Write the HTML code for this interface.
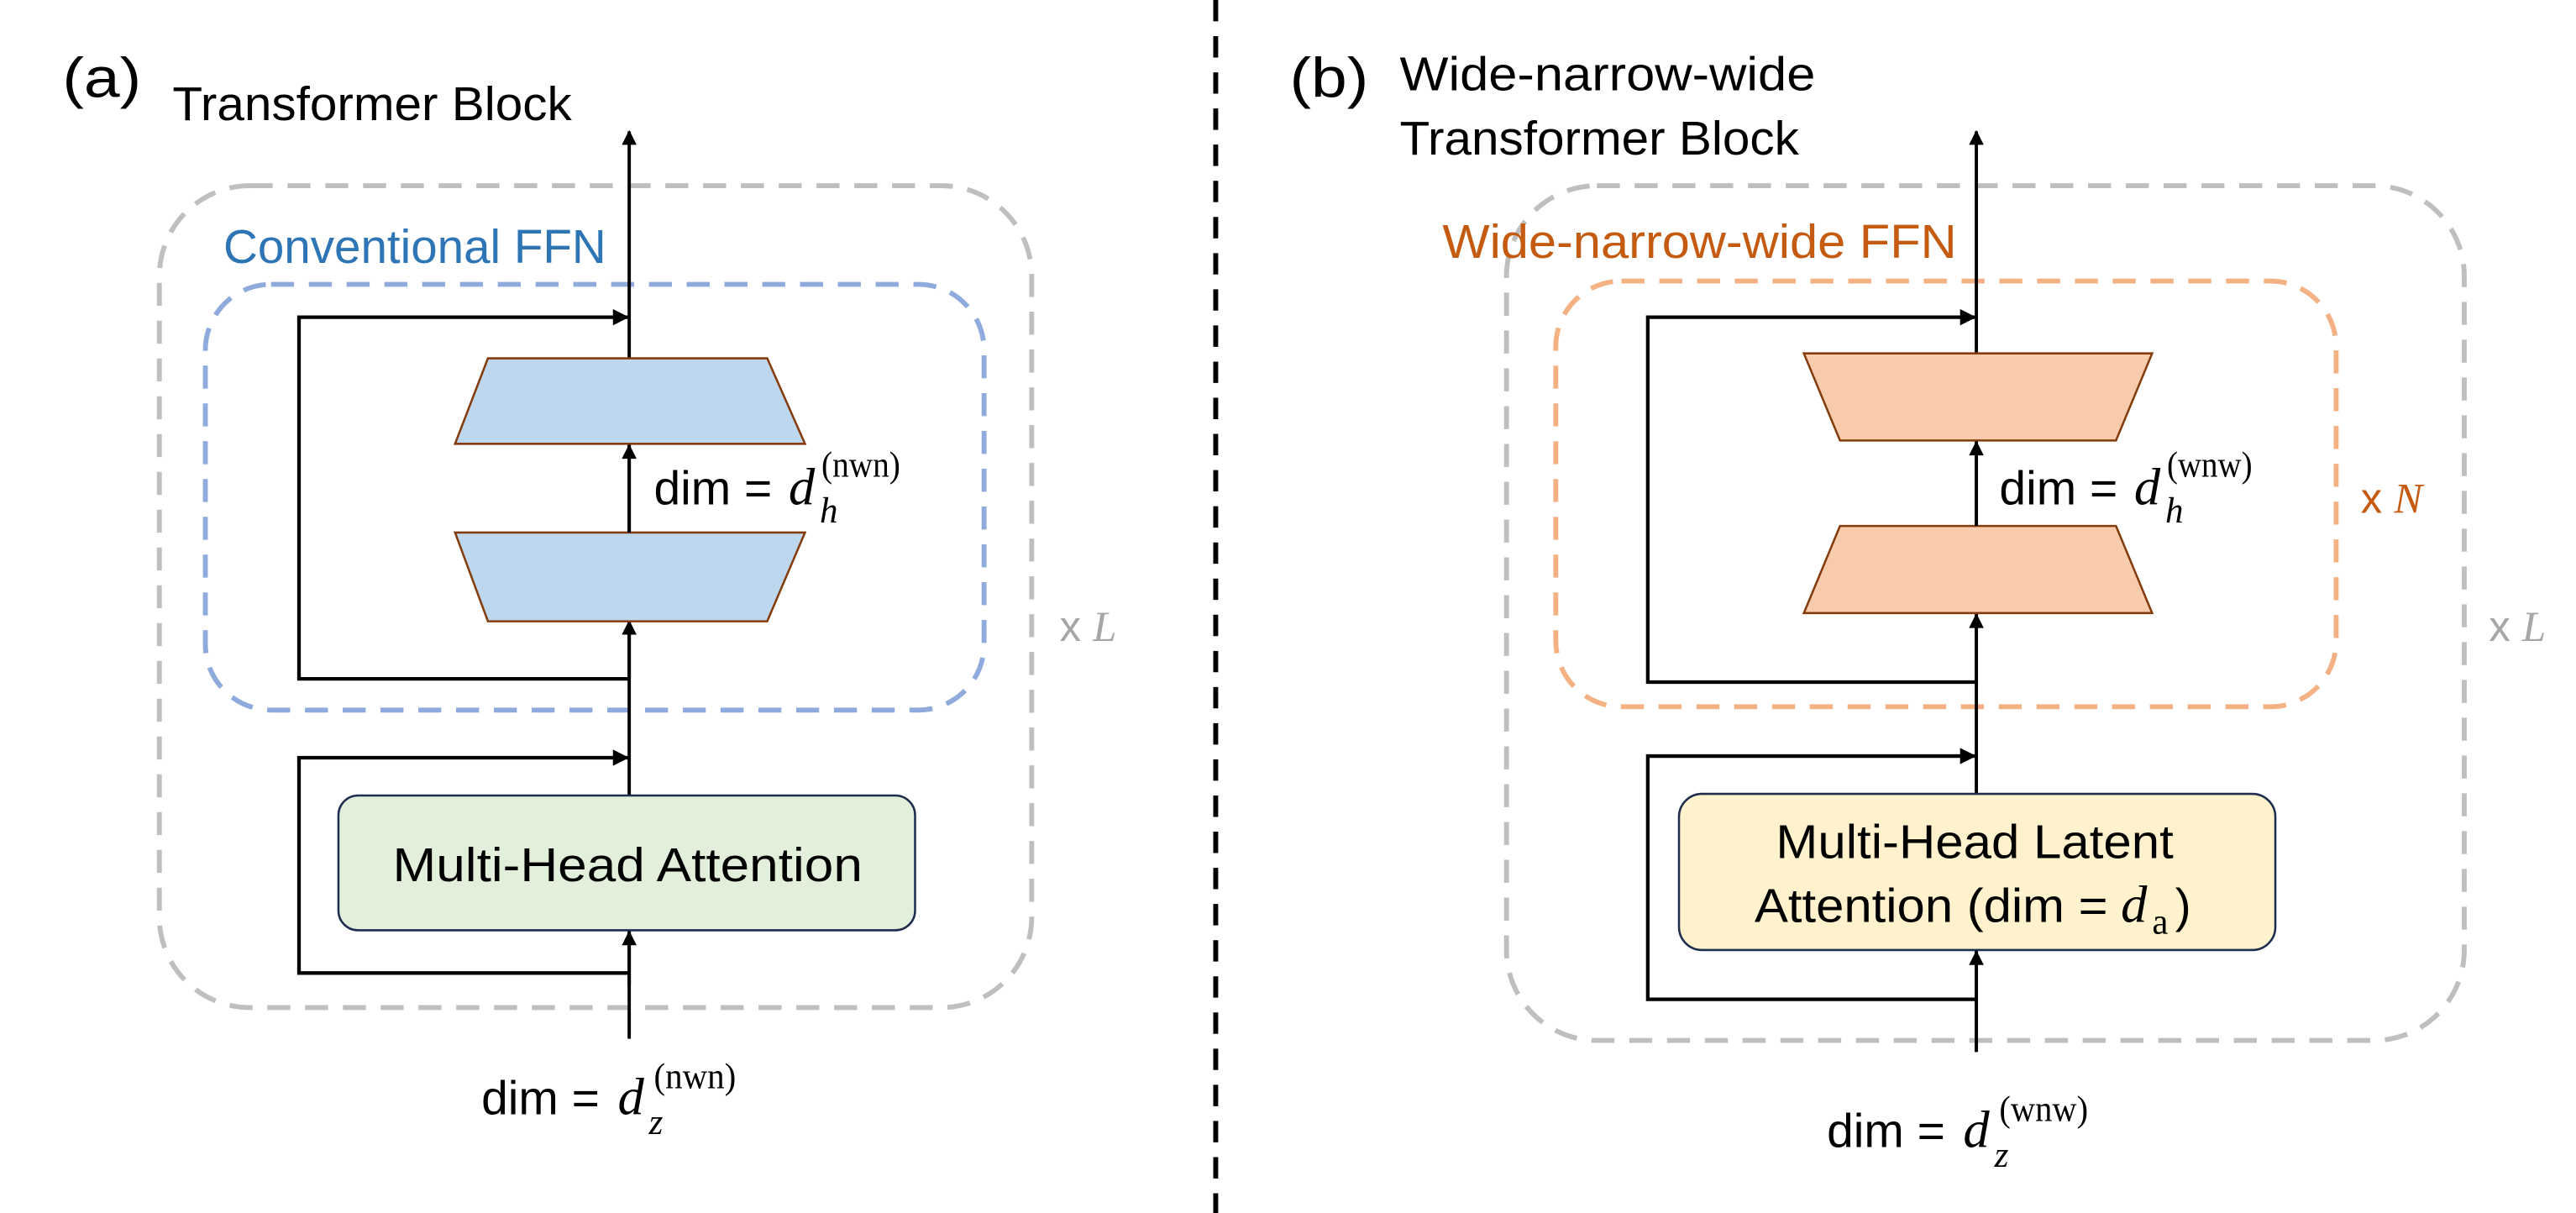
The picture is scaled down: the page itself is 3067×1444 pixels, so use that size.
<!DOCTYPE html>
<html><head><meta charset="utf-8"><style>
html,body{margin:0;padding:0;background:#fff;}
svg{display:block;}
text{font-family:"Liberation Sans",sans-serif;}
.m{font-family:"Liberation Serif",serif;}
</style></head><body>
<svg width="3067" height="1444" viewBox="0 0 1568 738" preserveAspectRatio="none" xmlns="http://www.w3.org/2000/svg">
<defs>
<marker id="ar" viewBox="0 0 10 10" refX="9" refY="5" markerWidth="5" markerHeight="4.5" orient="auto" markerUnits="strokeWidth">
<path d="M0,0 L10,5 L0,10 z" fill="#000"/></marker>
</defs>
<rect width="1568" height="738" fill="#fff"/>
<line x1="740" y1="0" x2="740" y2="738" stroke="#000" stroke-width="3" stroke-dasharray="13,9"/>

<!-- ===== Panel (a) ===== -->
<text x="38" y="59" font-size="34" textLength="48" lengthAdjust="spacingAndGlyphs">(a)</text>
<text x="105" y="73" font-size="29" textLength="243" lengthAdjust="spacingAndGlyphs">Transformer Block</text>
<rect x="97" y="113" width="531" height="500" rx="55" fill="none" stroke="#BFBFBF" stroke-width="3" stroke-dasharray="14,9"/>
<text x="136" y="160" font-size="29" fill="#2E75B6" textLength="233" lengthAdjust="spacingAndGlyphs">Conventional FFN</text>
<rect x="125" y="173" width="474" height="259" rx="40" fill="none" stroke="#8FAADC" stroke-width="3" stroke-dasharray="14,9"/>
<text x="645" y="390" font-size="26" fill="#A6A6A6">x <tspan class="m" font-style="italic">L</tspan></text>

<line x1="383" y1="632" x2="383" y2="80" stroke="#000" stroke-width="2" marker-end="url(#ar)"/>
<polyline points="383,413 182,413 182,193 382,193" fill="none" stroke="#000" stroke-width="2.2" marker-end="url(#ar)"/>
<line x1="383" y1="413" x2="383" y2="378" stroke="#000" stroke-width="2" marker-end="url(#ar)"/>
<polygon points="297,218 467,218 490,270 277,270" fill="#BDD7EE" stroke="#843C0C" stroke-width="1.3"/>
<polygon points="277,324 490,324 467,378 297,378" fill="#BDD7EE" stroke="#843C0C" stroke-width="1.3"/>
<line x1="383" y1="324" x2="383" y2="271" stroke="#000" stroke-width="2" marker-end="url(#ar)"/>
<text x="398" y="307" font-size="29" textLength="72" lengthAdjust="spacingAndGlyphs">dim =</text>
<text x="480" y="307" class="m" font-style="italic" font-size="32">d</text>
<text x="499" y="318" class="m" font-style="italic" font-size="22">h</text>
<text x="500" y="290" class="m" font-size="22" textLength="48" lengthAdjust="spacingAndGlyphs">(nwn)</text>

<polyline points="383,592 182,592 182,461 382,461" fill="none" stroke="#000" stroke-width="2.2" marker-end="url(#ar)"/>
<rect x="206" y="484" width="351" height="82" rx="12" fill="#E2EFDA" stroke="#1F2D4F" stroke-width="1.3"/>
<line x1="383" y1="600" x2="383" y2="567" stroke="#000" stroke-width="2" marker-end="url(#ar)"/>
<text x="239" y="536" font-size="29" textLength="286" lengthAdjust="spacingAndGlyphs">Multi-Head Attention</text>
<text x="293" y="678" font-size="29" textLength="72" lengthAdjust="spacingAndGlyphs">dim =</text>
<text x="376" y="678" class="m" font-style="italic" font-size="32">d</text>
<text x="395" y="690" class="m" font-style="italic" font-size="22">z</text>
<text x="398" y="662" class="m" font-size="22" textLength="50" lengthAdjust="spacingAndGlyphs">(nwn)</text>

<!-- ===== Panel (b) ===== -->
<text x="785" y="59" font-size="34" textLength="48" lengthAdjust="spacingAndGlyphs">(b)</text>
<text x="852" y="55" font-size="29" textLength="253" lengthAdjust="spacingAndGlyphs">Wide-narrow-wide</text>
<text x="852" y="94" font-size="29" textLength="243" lengthAdjust="spacingAndGlyphs">Transformer Block</text>
<rect x="917" y="113" width="583" height="520" rx="55" fill="none" stroke="#BFBFBF" stroke-width="3" stroke-dasharray="14,9"/>
<text x="878" y="157" font-size="29" fill="#C55A11" textLength="313" lengthAdjust="spacingAndGlyphs">Wide-narrow-wide FFN</text>
<rect x="947" y="171" width="475" height="259" rx="40" fill="none" stroke="#F4B183" stroke-width="3" stroke-dasharray="14,9"/>
<text x="1437" y="312" font-size="26" fill="#C55A11">x <tspan class="m" font-style="italic">N</tspan></text>
<text x="1515" y="390" font-size="26" fill="#A6A6A6">x <tspan class="m" font-style="italic">L</tspan></text>

<line x1="1203" y1="640" x2="1203" y2="80" stroke="#000" stroke-width="2" marker-end="url(#ar)"/>
<polyline points="1203,415 1003,415 1003,193 1202,193" fill="none" stroke="#000" stroke-width="2.2" marker-end="url(#ar)"/>
<line x1="1203" y1="415" x2="1203" y2="374" stroke="#000" stroke-width="2" marker-end="url(#ar)"/>
<polygon points="1098,215 1310,215 1288,268 1120,268" fill="#F8CBAD" stroke="#843C0C" stroke-width="1.3"/>
<polygon points="1120,320 1288,320 1310,373 1098,373" fill="#F8CBAD" stroke="#843C0C" stroke-width="1.3"/>
<line x1="1203" y1="320" x2="1203" y2="269" stroke="#000" stroke-width="2" marker-end="url(#ar)"/>
<text x="1217" y="307" font-size="29" textLength="72" lengthAdjust="spacingAndGlyphs">dim =</text>
<text x="1299" y="307" class="m" font-style="italic" font-size="32">d</text>
<text x="1318" y="318" class="m" font-style="italic" font-size="22">h</text>
<text x="1319" y="290" class="m" font-size="22" textLength="52" lengthAdjust="spacingAndGlyphs">(wnw)</text>

<polyline points="1203,608 1003,608 1003,460 1202,460" fill="none" stroke="#000" stroke-width="2.2" marker-end="url(#ar)"/>
<rect x="1022" y="483" width="363" height="95" rx="14" fill="#FFF2CC" stroke="#1F2D4F" stroke-width="1.3"/>
<line x1="1203" y1="640" x2="1203" y2="579" stroke="#000" stroke-width="2" marker-end="url(#ar)"/>
<text x="1081" y="522" font-size="29" textLength="242" lengthAdjust="spacingAndGlyphs">Multi-Head Latent</text>
<text x="1068" y="561" font-size="29" textLength="215" lengthAdjust="spacingAndGlyphs">Attention (dim =</text>
<text x="1291" y="561" class="m" font-style="italic" font-size="32">d</text>
<text x="1310" y="568" class="m" font-size="22">a</text>
<text x="1324" y="561" font-size="29">)</text>
<text x="1112" y="698" font-size="29" textLength="72" lengthAdjust="spacingAndGlyphs">dim =</text>
<text x="1195" y="698" class="m" font-style="italic" font-size="32">d</text>
<text x="1214" y="710" class="m" font-style="italic" font-size="22">z</text>
<text x="1217" y="682" class="m" font-size="22" textLength="54" lengthAdjust="spacingAndGlyphs">(wnw)</text>
</svg>
</body></html>
